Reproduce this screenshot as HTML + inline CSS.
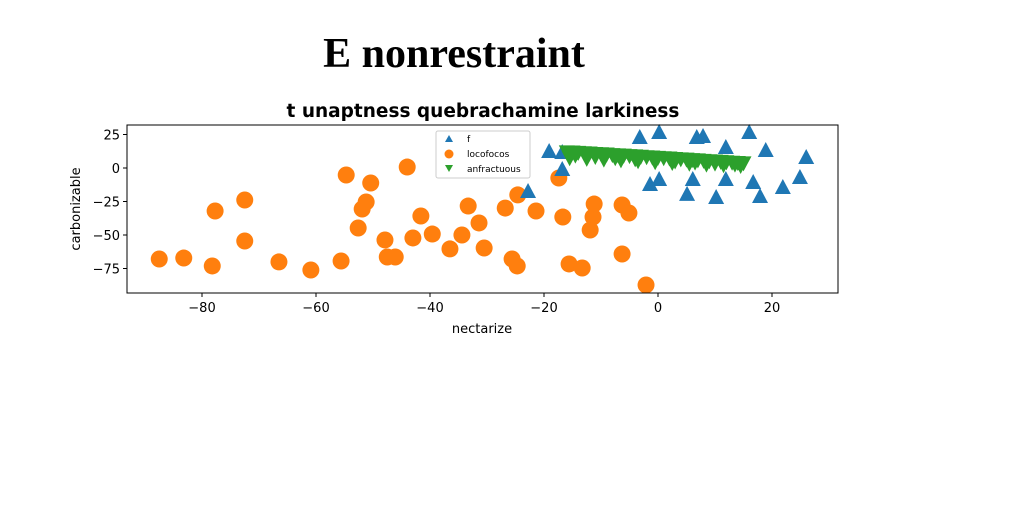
<!DOCTYPE html>
<html><head><meta charset="utf-8"><style>
html,body{margin:0;padding:0;background:#fff;}
svg{display:block;}
</style></head><body>
<svg id="chart" width="1024" height="512" viewBox="0 0 1024 512" xmlns="http://www.w3.org/2000/svg">
<rect x="0" y="0" width="1024" height="512" fill="#fff"/>
<text x="454" y="67" text-anchor="middle" font-family="'Liberation Serif',serif" font-weight="bold" font-size="42">E nonrestraint</text>
<text x="483" y="117" text-anchor="middle" font-family="'DejaVu Sans','Liberation Sans',sans-serif" font-weight="bold" font-size="18.5">t unaptness quebrachamine larkiness</text>
<g id="marks"></g>
<rect x="127" y="125" width="711" height="168" fill="none" stroke="#000" stroke-width="1"/>
<g id="axes"></g>
<text x="482" y="333" text-anchor="middle" font-family="'DejaVu Sans','Liberation Sans',sans-serif" font-size="13">nectarize</text>
<text transform="translate(80,209) rotate(-90)" text-anchor="middle" font-family="'DejaVu Sans','Liberation Sans',sans-serif" font-size="13">carbonizable</text>
<g>
<rect x="436" y="131" width="94" height="47" rx="2" fill="#fff" fill-opacity="0.8" stroke="#ccc"/>
<polygon points="449,135 445,142 453,142" fill="#1f77b4"/>
<text x="467" y="142" font-family="'DejaVu Sans','Liberation Sans',sans-serif" font-size="9">f</text>
<circle cx="449" cy="154" r="4.5" fill="#ff7f0e"/>
<text x="467" y="157" font-family="'DejaVu Sans','Liberation Sans',sans-serif" font-size="9">locofocos</text>
<polygon points="445,165 453,165 449,172" fill="#2ca02c"/>
<text x="467" y="172" font-family="'DejaVu Sans','Liberation Sans',sans-serif" font-size="9">anfractuous</text>
</g>
</svg>
<script>
const xTicks=[-80,-60,-40,-20,0,20];
const yTicks=[25,0,-25,-50,-75];
const fX=[-22.8,-19.1,-16.8,-16.8,-3.2,0.2,6.8,7.9,16.0,18.9,11.9,26.0,-1.4,0.2,6.1,5.1,10.2,11.9,16.7,17.9,21.9,24.9];
const fY=[-17.9,11.9,11.2,-1.5,22.4,26.1,22.4,23.1,26.1,12.7,14.9,7.5,-12.7,-9.0,-9.0,-20.1,-22.4,-9.0,-11.2,-21.6,-14.9,-7.5];
const oX=[-87.5,-83.2,-78.2,-77.7,-72.5,-72.5,-66.5,-60.9,-55.6,-54.7,-52.6,-51.9,-51.2,-50.4,-47.9,-47.5,-46.1,-44.0,-43.0,-41.6,-39.6,-36.5,-34.4,-33.3,-31.4,-30.5,-26.8,-25.6,-24.7,-24.6,-21.4,-17.4,-16.7,-15.6,-13.3,-11.9,-11.4,-11.2,-6.3,-5.1,-6.3,-2.1];
const oY=[-67.9,-67.2,-73.1,-32.1,-23.9,-54.5,-70.1,-76.1,-69.4,-5.2,-44.8,-30.6,-25.4,-11.2,-53.7,-66.4,-66.4,0.7,-52.2,-35.8,-49.3,-60.4,-50.0,-28.4,-41.0,-59.7,-29.9,-67.9,-73.1,-20.1,-32.1,-7.5,-36.6,-71.6,-74.6,-46.3,-36.6,-26.9,-27.6,-33.6,-64.2,-87.3];
const gX=[-16.0,-15.0,-14.0,-13.0,-12.0,-11.0,-10.0,-9.0,-8.0,-7.0,-6.0,-5.0,-4.0,-3.0,-2.0,-1.0,0.0,1.0,2.0,3.0,4.0,5.0,6.0,7.0,8.0,9.0,10.0,11.0,12.0,13.0,14.0,15.0,-15.5,-12.5,-9.5,-6.5,-3.5,-0.5,2.5,5.5,8.5,11.5,14.5,-14.5,-11.0,-7.5,-4.0,-0.5,3.0,6.5,10.0,13.5];
const gY=[12.4,12.3,12.0,11.8,11.6,11.2,11.0,10.8,10.4,10.2,10.0,9.6,9.4,9.1,8.8,8.6,8.3,8.0,7.8,7.5,7.2,7.0,6.6,6.4,6.1,5.8,5.6,5.3,5.0,4.7,4.5,4.2,8.0,7.6,7.0,6.4,5.8,5.0,4.5,3.9,3.3,2.8,2.2,10.0,9.0,8.0,7.2,6.5,5.6,4.8,4.0,3.3];
const NS="http://www.w3.org/2000/svg";
const sx=v=>658+v*5.7, sy=v=>168-v*1.34;
const marks=document.getElementById('marks'), axes=document.getElementById('axes');
function mk(tag,attrs,parent){const e=document.createElementNS(NS,tag);for(const k in attrs)e.setAttribute(k,attrs[k]);parent.appendChild(e);return e;}
oX.forEach((v,i)=>{const c=mk('circle',{cx:sx(v),cy:sy(oY[i]),r:8.5,fill:'#ff7f0e'},marks);

});
fX.forEach((v,i)=>{const x=sx(v),y=sy(fY[i]);const p=mk('polygon',{points:`${x},${y-9} ${x-8},${y+6} ${x+8},${y+6}`,fill:'#1f77b4'},marks);

});
gX.forEach((v,i)=>{const x=sx(v),y=sy(gY[i]);const p=mk('polygon',{points:`${x-8},${y-6} ${x+8},${y-6} ${x},${y+9}`,fill:'#2ca02c'},marks);

});
xTicks.forEach(t=>{const x=sx(t);
const l=mk('line',{x1:x,x2:x,y1:293,y2:297,stroke:'#000'},axes);


const tx=mk('text',{x:x,y:312,'text-anchor':'middle','font-family':"'DejaVu Sans','Liberation Sans',sans-serif",'font-size':13},axes);
tx.textContent=t<0?'\u2212'+(-t):String(t);

});
yTicks.forEach(t=>{const y=sy(t);
const l=mk('line',{x1:123,x2:127,y1:y,y2:y,stroke:'#000'},axes);


const tx=mk('text',{x:120,y:y+5,'text-anchor':'end','font-family':"'DejaVu Sans','Liberation Sans',sans-serif",'font-size':13},axes);
tx.textContent=t<0?'\u2212'+(-t):String(t);

});
</script>
</body></html>
